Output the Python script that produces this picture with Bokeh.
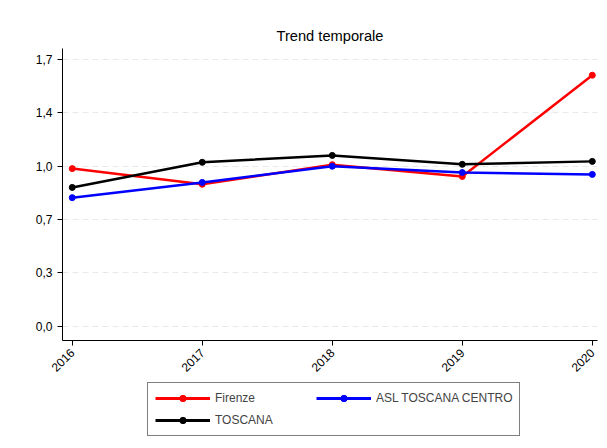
from bokeh.plotting import figure
from bokeh.layouts import column
from bokeh.models import Legend, LegendItem
from bokeh.embed import file_html
from bokeh.resources import INLINE

years = [2016, 2017, 2018, 2019, 2020]
firenze = [1.005, 0.905, 1.03, 0.955, 1.60]
asl = [0.82, 0.917, 1.02, 0.98, 0.968]
toscana = [0.885, 1.045, 1.089, 1.032, 1.051]
y_ticks = [0.0, 0.34, 0.68, 1.02, 1.36, 1.70]
y_labels = ["0,0", "0,3", "0,7", "1,0", "1,4", "1,7"]
series = [("Firenze", firenze, "red"), ("ASL TOSCANA CENTRO", asl, "blue"),
          ("TOSCANA", toscana, "black")]

p = figure(width=599, height=378, output_backend="svg", toolbar_location=None,
           x_range=(2015.925, 2020.04), y_range=(-0.09, 1.77),
           title="Trend temporale", min_border_left=62, min_border_right=2,
           min_border_top=48)
p.title.align = "center"
p.title.text_font = "Liberation Sans"
p.title.text_font_size = "11pt"
p.title.text_font_style = "normal"
p.title.text_color = "black"
p.outline_line_color = None
p.xgrid.grid_line_color = None
p.ygrid.grid_line_color = "#e8e8e8"
p.ygrid.grid_line_dash = "6 4"

p.xaxis.ticker = years
p.xaxis.major_label_orientation = 0.785
p.yaxis.ticker = y_ticks
p.yaxis.major_label_overrides = dict(zip(y_ticks, y_labels))
p.yaxis.major_label_orientation = "horizontal"
for ax in (p.xaxis, p.yaxis):
    ax.minor_tick_line_color = None
    ax.major_label_text_font = "Liberation Sans"
    ax.major_label_text_font_size = "9pt"
    ax.major_label_text_color = "black"
    ax.axis_line_color = "black"
    ax.major_tick_line_color = "black"
    ax.major_tick_in = 0
    ax.major_tick_out = 5

for name, vals, col in series:
    p.line(years, vals, color=col, line_width=2.5)
    p.scatter(years, vals, color=col, size=6)

# legend lives in its own small figure below the chart
lf = figure(width=599, height=60, output_backend="svg", toolbar_location=None,
            min_border=0, x_range=(0, 1), y_range=(0, 1))
lf.axis.visible = False
lf.grid.grid_line_color = None
lf.outline_line_color = None
items = []
for name, vals, col in series:
    l = lf.line([5, 6], [5, 6], color=col, line_width=3)
    c = lf.scatter([5], [5], color=col, size=6)
    items.append(LegendItem(label=name, renderers=[l, c]))
legend = Legend(items=items, ncols=2, orientation="horizontal", location=(85, 2),
                border_line_color="black", border_line_width=1,
                label_text_font="Liberation Sans", label_text_font_size="9pt",
                label_height=16, glyph_height=16, label_width=95,
                glyph_width=55, spacing=6, margin=0, padding=7)
lf.add_layout(legend)

open("out.html", "w").write(file_html(column(p, lf, spacing=0), INLINE))
